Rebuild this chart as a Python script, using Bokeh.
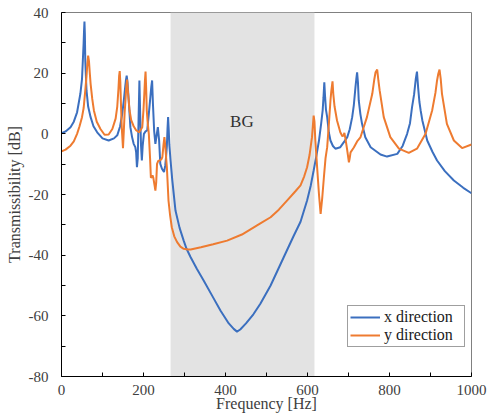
from bokeh.plotting import figure
from bokeh.models import FixedTicker, BoxAnnotation, Label, Range1d
from bokeh.embed import file_html
from bokeh.resources import INLINE

# ---- data ----
freq_x = [0, 10, 22, 30, 38, 46, 50, 52, 54, 55, 56, 57, 58, 61, 65, 71, 78, 87, 100, 115,
          128, 136, 143, 148, 152, 155, 157, 159, 161, 164, 168, 172, 176, 180, 182, 184,
          186, 188, 190, 192, 194, 196, 198, 201, 205, 209, 213, 216, 219, 221, 223, 226,
          229, 232, 235, 238, 241, 245, 250, 253, 255, 257, 258.5, 260, 261.5, 263, 266,
          270, 278, 288, 298, 305, 315, 330, 347, 368, 388, 408, 420, 428, 436, 450, 468,
          485, 510, 542, 565, 583, 599, 608, 615, 622, 628, 633, 637, 639, 641, 643, 645,
          648, 652, 656, 662, 668, 680, 690, 697, 703, 709, 713, 717, 719, 721, 723, 725,
          729, 733, 741, 754, 778, 794, 819, 832, 843, 850, 855, 860, 864, 867, 870, 873,
          876, 880, 892, 905, 916, 935, 957, 980, 1000]
tx_db = [0.2, 0.8, 2.2, 4.0, 7.1, 13.2, 18.0, 24.0, 30.0, 34.0, 37.0, 33.0, 24.0, 14.3, 9.0,
         5.5, 2.5, 0.5, -1.5, -2.2, -1.5, -0.5, 2.5, 6.5, 11.0, 15.0, 17.5, 19.2, 17.0, 11.0,
         2.2, -1.0, -3.3, -4.4, -6.0, -11.0, -8.0, 5.0, 17.6, 6.0, -4.0, -8.8, -4.0, 0.0, 0.8,
         1.1, 6.6, 11.0, 15.5, 17.6, 10.0, 1.0, -3.3, -0.5, 2.2, -2.0, -9.9, -11.5, -12.6,
         -10.5, -7.7, -4.0, 1.5, 5.5, 1.5, -3.5, -8.8, -15.0, -25.3, -31.0, -35.2, -37.9,
         -40.7, -44.5, -48.4, -53.5, -58.3, -62.5, -64.3, -65.2, -64.5, -62.5, -59.5, -56.0,
         -50.0, -40.7, -34.0, -29.0, -22.0, -17.0, -12.1, -7.0, -2.2, 3.0, 7.7, 12.0, 17.0,
         12.0, 8.0, 5.5, 0.5, -2.2, -4.0, -4.9, -4.4, -2.5, -1.1, 1.5, 5.5, 9.5, 15.4, 18.0,
         20.3, 17.0, 11.0, 6.5, 3.3, -1.1, -4.4, -6.8, -7.5, -6.6, -4.0, 0.0, 3.5, 8.8, 13.0,
         18.0, 20.5, 15.0, 10.5, 7.7, 4.5, -2.2, -6.0, -8.8, -12.3, -15.4, -17.8, -19.6]

freq_y = [0, 10, 22, 30, 38, 44, 50, 54, 58, 61, 63, 65, 67, 69, 71, 75, 79, 86, 95, 105,
          115, 124, 132, 136, 139, 140.5, 142, 143.5, 145, 147, 150, 152, 154, 156, 158, 160,
          162, 166, 170, 176, 182, 189, 194, 197, 200, 202, 203.5, 205, 206.5, 208, 210, 213,
          216, 218, 220, 222, 224, 227, 229, 231, 233, 236, 240, 244, 246, 248.5, 251, 253,
          257, 261, 265, 269, 275, 282, 290, 298, 308, 315, 340, 370, 404, 440, 485, 510, 530,
          550, 570, 583, 592, 599, 605, 609, 611, 613, 615, 617, 619, 622, 624, 628, 632, 636,
          640, 644, 648, 652, 656, 658, 661, 663, 666, 672, 680, 685, 688, 690, 693, 697, 701,
          703, 705, 713, 721, 729, 745, 758, 763, 766, 770, 773, 776, 786, 802, 823, 847, 867,
          888, 904, 912, 916, 919, 922, 925, 928, 940, 957, 977, 1000]
ty_db = [-5.8, -5.2, -3.9, -2.5, 0.0, 2.5, 5.5, 8.5, 14.3, 19.0, 23.0, 25.8, 24.0, 20.0, 16.5,
         11.5, 7.7, 4.0, 1.6, -0.3, -0.2, 1.6, 5.0, 9.0, 15.0, 19.0, 20.7, 17.0, 10.0, 2.0,
         -4.7, 1.0, 7.0, 11.0, 15.5, 17.9, 14.0, 7.7, 4.5, 2.5, 1.2, 0.5, 1.5, 2.2, 8.0, 13.2,
         17.5, 20.5, 15.0, 7.7, 4.0, 0.0, -8.0, -14.5, -14.3, -13.7, -14.5, -17.0, -18.7,
         -16.0, -9.9, -8.9, -8.8, -8.3, -7.7, -4.0, -1.1, -4.0, -11.0, -22.0, -27.0, -30.8,
         -33.8, -35.7, -37.2, -37.9, -38.1, -38.1, -37.4, -36.4, -35.2, -33.2, -29.5, -27.5,
         -25.0, -22.0, -19.0, -17.0, -14.0, -11.0, -7.0, -3.0, -1.1, 2.5, 6.0, 4.0, -2.0,
         -8.0, -12.1, -20.0, -26.4, -21.0, -14.3, -8.0, -4.4, 3.0, 11.0, 14.0, 17.3, 13.0,
         9.0, 4.4, 0.5, -0.8, -0.5, 0.3, -2.0, -5.5, -9.4, -8.0, -6.1, -4.5, -2.5, -1.2, 5.5,
         13.2, 18.0, 20.3, 21.2, 17.5, 14.3, 5.5, -1.1, -4.9, -6.3, -4.9, 0.0, 7.7, 13.5, 17.6,
         19.8, 21.2, 18.0, 13.2, 3.3, -2.2, -4.7, -3.5]

band_hz = [266, 617]
band_label = "BG"
band_label_pos = [440, 4.1]
series_names = ["x direction", "y direction"]
x_ticks = [0, 200, 400, 600, 800, 1000]
x_minor = [100, 300, 500, 700, 900]
y_ticks = [-80, -60, -40, -20, 0, 20, 40]
y_minor = [-70, -50, -30, -10, 10, 30]

FONT = "Liberation Serif"
TXT = "#404040"

p = figure(width=488, height=418, output_backend="svg", toolbar_location=None,
           x_range=Range1d(0, 1000), y_range=Range1d(-80, 40),
           min_border_left=61, min_border_right=17, min_border_top=12, min_border_bottom=42)

p.xgrid.visible = False
p.ygrid.visible = False
p.outline_line_color = "#808080"
p.outline_line_width = 1

band = BoxAnnotation(left=band_hz[0], right=band_hz[1], fill_color="#e3e3e3", fill_alpha=1.0,
                     line_alpha=0, level="underlay")
p.add_layout(band)

p.add_layout(Label(x=band_label_pos[0], y=band_label_pos[1], text=band_label,
                   text_font=FONT, text_font_size="17px", text_color="#303030",
                   text_align="center", text_baseline="middle"))

p.line(freq_x, tx_db, line_color="#3B6FBF", line_width=2, legend_label=series_names[0])
p.line(freq_y, ty_db, line_color="#EE7B30", line_width=2, legend_label=series_names[1])

for ax, ticks, minor in ((p.xaxis[0], x_ticks, x_minor), (p.yaxis[0], y_ticks, y_minor)):
    ax.ticker = FixedTicker(ticks=ticks, minor_ticks=minor)
    ax.major_label_overrides = {t: str(t) for t in ticks}
    ax.axis_line_color = "#000000"
    ax.major_tick_line_color = "#000000"
    ax.minor_tick_line_color = "#000000"
    ax.major_tick_in = 4
    ax.major_tick_out = 0
    ax.minor_tick_in = 4
    ax.minor_tick_out = 0
    ax.major_label_text_font = FONT
    ax.major_label_text_font_size = "15px"
    ax.major_label_text_color = TXT
    ax.axis_label_text_font = FONT
    ax.axis_label_text_font_size = "16px"
    ax.axis_label_text_font_style = "normal"
    ax.axis_label_text_color = TXT

p.xaxis.axis_label = "Frequency [Hz]"
p.yaxis.axis_label = "Transmissibility [dB]"
p.xaxis.major_label_standoff = 8
p.xaxis.axis_label_standoff = -3
p.yaxis.major_label_standoff = 13
p.yaxis.axis_label_standoff = 3

lg = p.legend[0]
lg.location = (286, 29)
lg.label_text_font = FONT
lg.label_text_font_size = "16px"
lg.label_text_color = "#202020"
lg.border_line_color = "#404040"
lg.border_line_width = 1
lg.background_fill_alpha = 1.0
lg.padding = 2
lg.spacing = 0
lg.margin = 0
lg.glyph_width = 30
lg.glyph_height = 16
lg.label_height = 16
lg.label_width = 78
lg.label_standoff = 4

open("out.html", "w").write(file_html(p, INLINE))
